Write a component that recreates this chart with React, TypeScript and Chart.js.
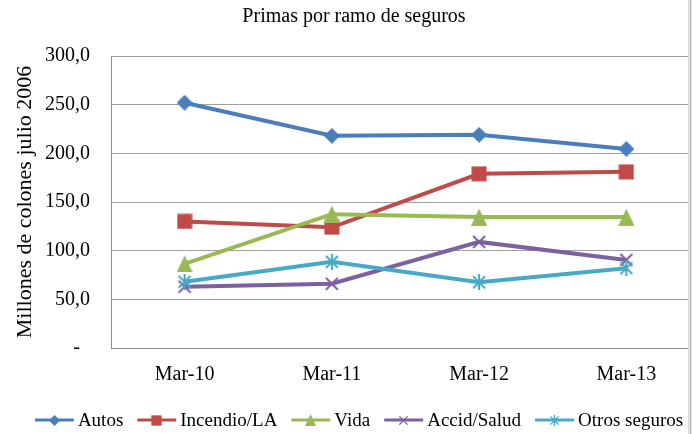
import React, { useEffect, useRef } from 'react';
import { Chart, registerables } from 'chart.js';

Chart.register(...registerables);

// ---- Data ----
const categories = ['Mar-10', 'Mar-11', 'Mar-12', 'Mar-13'];
const autos = [252, 218, 219, 204.5];
const incendio = [130, 124, 179, 181];
const vida = [86.5, 137.5, 134.5, 134.5];
const accid = [63, 66, 109, 90.5];
const otros = [68, 88.5, 67.5, 82];
const seriesNames = ['Autos', 'Incendio/LA', 'Vida', 'Accid/Salud', 'Otros seguros'];
const seriesColors = ['#4A7EBB', '#BE4B48', '#98B954', '#7D60A0', '#46AAC5'];
const seriesMarkers = ['diamond', 'square', 'triangle', 'x', 'star'];
const chartTitle = 'Primas por ramo de seguros';
const yTitle = 'Millones de colones julio 2006';
const yMin = 0;
const yMax = 300;
const yStep = 50;

const FONT = '"Liberation Serif", "Times New Roman", serif';

function makeMarker(kind: string, color: string, s: number): HTMLCanvasElement {
  const c = document.createElement('canvas');
  const bw = 16;
  const bh = kind === 'triangle' ? 17 : 16;
  c.width = Math.round(bw * s);
  c.height = Math.round(bh * s);
  const ctx = c.getContext('2d')!;
  ctx.scale(c.width / bw, c.height / bh);
  ctx.fillStyle = color;
  ctx.strokeStyle = color;
  ctx.lineWidth = 2;
  ctx.beginPath();
  if (kind === 'diamond') {
    ctx.moveTo(8, 0); ctx.lineTo(16, 8); ctx.lineTo(8, 16); ctx.lineTo(0, 8); ctx.closePath(); ctx.fill();
  } else if (kind === 'square') {
    ctx.rect(0.5, 0.5, 15, 15); ctx.fill();
  } else if (kind === 'triangle') {
    ctx.moveTo(8, 0); ctx.lineTo(16, 17); ctx.lineTo(0, 17); ctx.closePath(); ctx.fill();
  } else if (kind === 'x') {
    ctx.moveTo(2, 2); ctx.lineTo(14, 14); ctx.moveTo(14, 2); ctx.lineTo(2, 14); ctx.stroke();
  } else {
    ctx.moveTo(2, 2); ctx.lineTo(14, 14); ctx.moveTo(14, 2); ctx.lineTo(2, 14);
    ctx.moveTo(8, 0); ctx.lineTo(8, 16); ctx.stroke();
  }
  return c;
}

export default function App() {
  const ref = useRef<HTMLCanvasElement | null>(null);

  useEffect(() => {
    if (!ref.current) return;
    const values = [autos, incendio, vida, accid, otros];
    const bigMarkers = seriesMarkers.map((m, i) => makeMarker(m, seriesColors[i], 1));
    const smallMarkers = seriesMarkers.map((m, i) => makeMarker(m, seriesColors[i], 0.7));

    const titlePlugin = {
      id: 'customTitleLegend',
      afterDraw(chart: any) {
        const ctx = chart.ctx as CanvasRenderingContext2D;
        ctx.save();
        // title
        ctx.fillStyle = '#000';
        ctx.font = `20px ${FONT}`;
        ctx.textAlign = 'center';
        ctx.textBaseline = 'middle';
        ctx.fillText(chartTitle, 354, 17);
        // legend
        ctx.font = `19px ${FONT}`;
        ctx.textAlign = 'left';
        const iconW = 39;
        const gapText = 4;
        const gapItem = 14;
        const widths = seriesNames.map((n) => ctx.measureText(n).width);
        const total = widths.reduce((a, w) => a + iconW + gapText + w, 0) + gapItem * (seriesNames.length - 1);
        let x = 359 - total / 2;
        const y = 420;
        seriesNames.forEach((name, i) => {
          ctx.strokeStyle = seriesColors[i];
          ctx.lineWidth = 3;
          ctx.beginPath();
          ctx.moveTo(x, y);
          ctx.lineTo(x + iconW, y);
          ctx.stroke();
          const m = smallMarkers[i];
          ctx.drawImage(m, Math.round(x + iconW / 2 - m.width / 2), Math.round(y - m.height / 2));
          ctx.fillStyle = '#000';
          ctx.fillText(name, x + iconW + gapText, y + 1);
          x += iconW + gapText + widths[i] + gapItem;
        });
        ctx.restore();
      },
    };

    const chart = new Chart(ref.current, {
      type: 'line',
      data: {
        labels: categories,
        datasets: seriesNames.map((name, i) => ({
          label: name,
          data: values[i],
          borderColor: seriesColors[i],
          backgroundColor: seriesColors[i],
          borderWidth: 4,
          pointStyle: bigMarkers[i] as any,
          pointRadius: 8,
          tension: 0,
          fill: false,
          order: seriesNames.length - i,
        })),
      },
      options: {
        animation: false,
        responsive: false,
        devicePixelRatio: 1,
        layout: { padding: { top: 56, right: 11, bottom: 50, left: 0 } },
        plugins: {
          legend: { display: false },
          tooltip: { enabled: false },
          title: { display: false },
        },
        scales: {
          x: {
            offset: true,
            grid: { display: true, color: 'rgba(0,0,0,0)', drawTicks: false },
            border: { display: true, color: '#8c8c8c', width: 1 },
            ticks: { font: { family: FONT, size: 20 }, color: '#000', padding: 15, maxRotation: 0 },
            afterFit: (s: any) => { s.height = 36; },
          },
          y: {
            min: yMin,
            max: yMax,
            grid: { color: '#a0a0a0', drawTicks: false, lineWidth: 1 },
            border: { display: true, color: '#8c8c8c', width: 1 },
            ticks: {
              stepSize: yStep,
              font: { family: FONT, size: 20 },
              color: '#000',
              padding: 21,
              callback: (v: any) => (Number(v) === 0 ? '-  ' : Number(v).toFixed(1).replace('.', ',')),
            },
            title: {
              display: true,
              text: yTitle,
              font: { family: FONT, size: 22 },
              color: '#000',
              padding: { top: 12, bottom: 0 },
            },
            afterFit: (s: any) => { s.width = 111; },
          },
        },
      },
      plugins: [titlePlugin],
    } as any);
    return () => chart.destroy();
  }, []);

  return (
    <div style={{ position: 'fixed', left: 0, top: 0, width: 692, height: 434, overflow: 'hidden', background: '#fff' }}>
      <canvas ref={ref} width={712} height={434} style={{ display: 'block' }} />
      <div style={{ position: 'absolute', left: 688, top: 0, width: 4, height: 434, background: '#dedede' }} />
      <div style={{ position: 'absolute', left: 690, top: 0, width: 1, height: 434, background: '#bdbdbd' }} />
    </div>
  );
}
